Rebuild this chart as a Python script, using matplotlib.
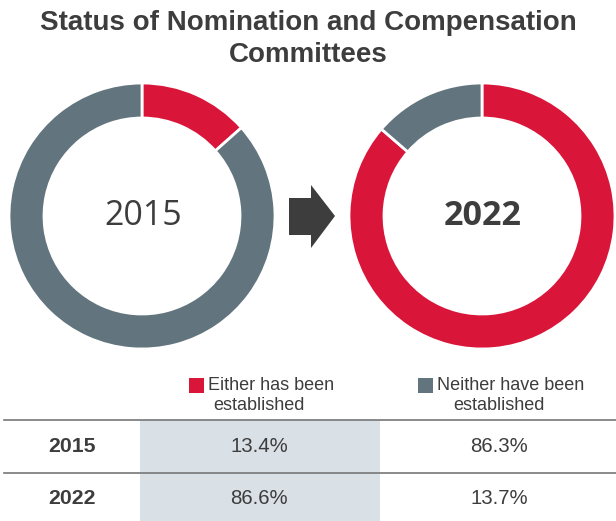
import matplotlib.pyplot as plt
from matplotlib.patches import Polygon, Rectangle

plt.rcParams['font.family'] = ['Liberation Sans', 'DejaVu Sans']

years = ["2015", "2022"]
categories = ["Either has been\nestablished", "Neither have been\nestablished"]
either = [13.4, 86.6]
neither = [86.3, 13.7]

RED = "#d9163a"
GRAY = "#62747e"
DARK = "#3d3d3d"
SHADE = "#d9e0e6"

W, H = 616, 521
fig = plt.figure(figsize=(W / 100, H / 100), dpi=100)
ax = fig.add_axes([0, 0, 1, 1])
ax.set_xlim(0, W)
ax.set_ylim(0, H)
ax.set_aspect("equal")
ax.axis("off")


def Y(y):
    # image-space y (from top) to axes y
    return H - y


fig.text(0.5, 1 - 39 / H, "Status of Nomination and Compensation\nCommittees",
         ha="center", va="center", fontsize=20, fontweight="bold",
         color=DARK, linespacing=1.32)

# donuts
centers = [(142, 216), (482, 216)]
for i, (cx, cy) in enumerate(centers):
    ax.pie([either[i], neither[i]], colors=[RED, GRAY], startangle=90,
           counterclock=False, center=(cx, Y(cy)), radius=133,
           wedgeprops=dict(width=35, edgecolor="white", linewidth=2))
    ax.text(cx + 1, Y(cy), years[i], ha="center", va="center", fontsize=24.5,
            color=DARK, fontweight="bold" if i == 1 else "normal",
            family=['Open Sans', 'DejaVu Sans'])

# arrow between donuts
ax.add_patch(Polygon([(289, Y(198)), (311, Y(198)), (311, Y(185)), (335, Y(216)),
                      (311, Y(248)), (311, Y(235)), (289, Y(235))],
                     closed=True, color=DARK, lw=0))

ax.set_xlim(0, W)
ax.set_ylim(0, H)

# table
ax.add_patch(Rectangle((140, 0), 240, Y(420), color=SHADE, lw=0, zorder=0))
for yl in [420, 473]:
    ax.plot([4, W], [Y(yl), Y(yl)], color="#777777", lw=1.2)

col_x = [259, 499]
for j, cat in enumerate(categories):
    first, second = cat.split("\n")
    t = ax.text(col_x[j] + 12, Y(385), first, ha="center", va="center",
                fontsize=13, color=DARK)
    ax.text(col_x[j], Y(406), second, ha="center", va="center",
            fontsize=13, color=DARK)
    # legend swatch placed left of the first header line
    fig.canvas.draw()
    bb = t.get_window_extent()
    ax.add_patch(Rectangle((bb.x0 - 19, Y(393)), 15, 15,
                           color=[RED, GRAY][j], lw=0))

row_y = [447, 499]
for i, yr in enumerate(years):
    ax.text(72, Y(row_y[i]), yr, ha="center", va="center", fontsize=15.3,
            fontweight="bold", color=DARK)
    ax.text(col_x[0], Y(row_y[i]), f"{either[i]}%", ha="center", va="center",
            fontsize=14.7, color=DARK)
    ax.text(col_x[1], Y(row_y[i]), f"{neither[i]}%", ha="center", va="center",
            fontsize=14.7, color=DARK)

fig.savefig("out.png", dpi=100)
